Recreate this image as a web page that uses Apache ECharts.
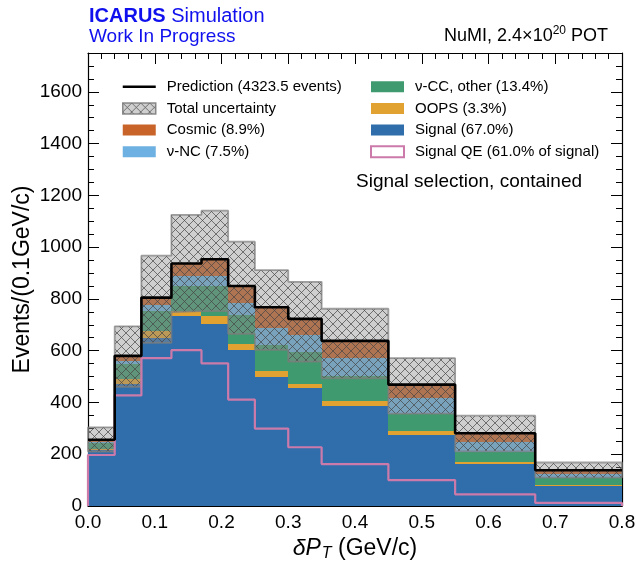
<!DOCTYPE html>
<html>
<head>
<meta charset="utf-8">
<script src="https://cdn.jsdelivr.net/npm/echarts@6/dist/echarts.min.js"></script>
<style>
html,body{margin:0;padding:0;background:#fff;}
#chart{width:636px;height:565px;}
</style>
</head>
<body>
<div id="chart"></div>
<script>
// ---- data ----
const binEdges = [0, 0.04, 0.08, 0.125, 0.17, 0.21, 0.25, 0.30, 0.35, 0.45, 0.55, 0.67, 0.8];
const signal   = [215, 470, 649, 733, 703, 603, 497, 455, 385, 275, 164, 76];
const oops     = [5, 19, 28, 22, 30, 22, 24, 18, 19, 13, 7, 7];
const ccOther  = [22, 58, 78, 95, 117, 111, 102, 122, 100, 68, 39, 27];
const ncEvents = [6, 13, 20, 39, 39, 49, 65, 65, 66, 62, 39, 13];
const cosmic   = [8, 20, 30, 48, 64, 65, 80, 63, 68, 51, 32, 15];
const signalQE = [197, 427, 571, 602, 551, 411, 299, 227, 162, 100, 45, 12];
const uncUp    = [48, 114, 162, 188, 188, 171, 143, 143, 124, 102, 68, 30];
const uncDown  = [46, 120, 175, 188, 200, 185, 165, 165, 145, 112, 70, 28];
const xTicks = [0, 0.1, 0.2, 0.3, 0.4, 0.5, 0.6, 0.7, 0.8];
const yTicks = [0, 200, 400, 600, 800, 1000, 1200, 1400, 1600];

const names = {
  pred: 'Prediction (4323.5 events)',
  unc: 'Total uncertainty',
  cosmic: 'Cosmic (8.9%)',
  nc: 'ν-NC (7.5%)',
  cc: 'ν-CC, other (13.4%)',
  oops: 'OOPS (3.3%)',
  signal: 'Signal (67.0%)',
  qe: 'Signal QE (61.0% of signal)'
};
// ---- styles ----
const colors = {
  signal: '#2f6eab', oops: '#e1a232', cc: '#409a6f', nc: '#6cb1e1', cosmic: '#c8642a', qe: '#cc7aaa'
};

function hatchPattern() {
  const P = 9;
  const c = document.createElement('canvas');
  c.width = P; c.height = P;
  const g = c.getContext('2d');
  g.fillStyle = 'rgba(140,140,140,0.42)';
  g.fillRect(0, 0, P, P);
  g.strokeStyle = 'rgba(70,70,70,0.7)';
  g.lineWidth = 1;
  g.beginPath();
  for (const o of [-P, 0, P]) {
    g.moveTo(o, 0); g.lineTo(o + P, P);
    g.moveTo(o, P); g.lineTo(o + P, 0);
  }
  g.stroke();
  return { image: c, repeat: 'repeat' };
}
const hatch = hatchPattern();

const layers = [
  { key: 'signal', values: signal },
  { key: 'oops', values: oops },
  { key: 'cc', values: ccOther },
  { key: 'nc', values: ncEvents },
  { key: 'cosmic', values: cosmic }
];

const nBins = binEdges.length - 1;
const base = new Array(nBins).fill(0);
const series = [];

function rectRender(fill) {
  return function (params, api) {
    const p0 = api.coord([api.value(0), api.value(3)]);
    const p1 = api.coord([api.value(1), api.value(2)]);
    const x0 = Math.round(p0[0]), x1 = Math.round(p1[0]);
    const y0 = Math.round(p0[1]), y1 = Math.round(p1[1]);
    return {
      type: 'rect',
      shape: { x: x0, y: y0, width: x1 - x0, height: y1 - y0 },
      style: { fill: fill }
    };
  };
}

layers.forEach(L => {
  const d = [];
  for (let i = 0; i < nBins; i++) {
    d.push([binEdges[i], binEdges[i + 1], base[i], base[i] + L.values[i]]);
    base[i] += L.values[i];
  }
  series.push({
    type: 'custom', name: names[L.key], z: 1,
    itemStyle: { color: colors[L.key] },
    encode: { x: [0, 1], y: [2, 3] },
    renderItem: rectRender(colors[L.key]),
    data: d
  });
});
const total = base.slice();

// uncertainty band (fill)
const uncData = [];
const uncOutline = [];
for (let i = 0; i < nBins; i++) {
  uncData.push([binEdges[i], binEdges[i + 1], total[i] - uncDown[i], total[i] + uncUp[i]]);
}
// outline: along the top edge, then back along the bottom edge
uncOutline.push([binEdges[0], total[0] - uncDown[0]]);
for (let i = 0; i < nBins; i++) {
  uncOutline.push([binEdges[i], total[i] + uncUp[i]]);
  uncOutline.push([binEdges[i + 1], total[i] + uncUp[i]]);
}
for (let i = nBins - 1; i >= 0; i--) {
  uncOutline.push([binEdges[i + 1], total[i] - uncDown[i]]);
  uncOutline.push([binEdges[i], total[i] - uncDown[i]]);
}
series.push({
  type: 'custom', name: names.unc, z: 2,
  itemStyle: { color: hatch, borderColor: 'rgba(120,120,120,0.8)', borderWidth: 1.5 },
  encode: { x: [0, 1], y: [2, 3] },
  renderItem: rectRender(hatch),
  data: uncData
});
series.push({
  type: 'line', name: 'uncOutline', z: 2, symbol: 'none', silent: true,
  lineStyle: { color: 'rgba(125,125,125,0.75)', width: 1.8 },
  data: uncOutline
});

// step outlines
function stepPoints(vals, closeEnds) {
  const pts = [];
  if (closeEnds) pts.push([binEdges[0], 0]);
  for (let i = 0; i < nBins; i++) pts.push([binEdges[i], vals[i]]);
  pts.push([binEdges[nBins], vals[nBins - 1]]);
  if (closeEnds) pts.push([binEdges[nBins], 0]);
  return pts;
}
series.push({
  type: 'line', name: names.qe, z: 3, step: 'end', symbol: 'none',
  lineStyle: { color: colors.qe, width: 2.2 }, itemStyle: { color: colors.qe },
  data: stepPoints(signalQE, true)
});
series.push({
  type: 'line', name: names.pred, z: 4, step: 'end', symbol: 'none',
  lineStyle: { color: '#000', width: 2.6 }, itemStyle: { color: '#000' },
  data: stepPoints(total, false)
});

const FONT = 'Liberation Sans, Arial, Helvetica, sans-serif';
const xMin = xTicks[0], xMax = xTicks[xTicks.length - 1];
const yMin = yTicks[0], yMax = 1750;

function xAx(pos, labels) {
  return {
    type: 'value', position: pos, min: xMin, max: xMax, interval: 0.1,
    axisLine: { show: true, onZero: false, lineStyle: { color: '#000', width: 1.2 } },
    axisTick: { show: true, inside: true, length: 11, lineStyle: { color: '#000', width: 1 } },
    minorTick: { show: true, splitNumber: 5, length: 6, lineStyle: { color: '#000', width: 1 } },
    splitLine: { show: false },
    axisLabel: labels ? { show: true, margin: 7, color: '#000', fontSize: 19, fontFamily: FONT,
      formatter: v => v.toFixed(1) } : { show: false }
  };
}
function yAx(pos, interval, len, labels, line) {
  return {
    type: 'value', position: pos, min: yMin, max: yMax, interval: interval,
    axisLine: { show: line, onZero: false, lineStyle: { color: '#000', width: 1.2 } },
    axisTick: { show: true, inside: true, length: len, lineStyle: { color: '#000', width: 1 } },
    splitLine: { show: false },
    axisLabel: labels ? { show: true, margin: 6, color: '#000', fontSize: 19, fontFamily: FONT,
      showMaxLabel: false, formatter: v => String(v) } : { show: false }
  };
}

const xAxes = [xAx('bottom', true), xAx('top', false)];
xAxes[0].name = '{i|δP}{s|T}{n| (GeV/c)}';
xAxes[0].nameLocation = 'middle';
xAxes[0].nameGap = 30;
xAxes[0].nameTextStyle = {
  color: '#000', fontFamily: FONT,
  rich: {
    i: { fontSize: 23, fontStyle: 'italic', fontFamily: FONT, color: '#000' },
    s: { fontSize: 16, fontStyle: 'italic', fontFamily: FONT, color: '#000', padding: [10, 0, 0, 1] },
    n: { fontSize: 23, fontFamily: FONT, color: '#000' }
  }
};
const yAxes = [
  yAx('left', 200, 11, true, true),
  yAx('left', 50, 6, false, false),
  yAx('right', 200, 11, false, true),
  yAx('right', 50, 6, false, false)
];
yAxes[0].name = 'Events/(0.1GeV/c)';
yAxes[0].nameLocation = 'middle';
yAxes[0].nameGap = 54;
yAxes[0].nameMoveOverlap = false;
yAxes[0].nameTextStyle = { color: '#000', fontSize: 23, fontFamily: FONT };

const legendCommon = {
  orient: 'vertical', itemWidth: 33, itemHeight: 11, itemGap: 5.7,
  textStyle: { color: '#000', fontSize: 15, fontFamily: FONT, lineHeight: 16, padding: [0, 0, 0, 6] },
  selectedMode: false
};

const option = {
  animation: false,
  backgroundColor: '#fff',
  grid: { left: 88, right: 14, top: 53, bottom: 59, outerBoundsMode: 'none', containLabel: false },
  xAxis: xAxes,
  yAxis: yAxes,
  legend: [
    Object.assign({}, legendCommon, {
      left: 117, top: 73.7,
      data: [
        { name: names.pred, icon: 'path://M0,0 L0.01,0 M0,4.3 L33,4.3 L33,6.7 L0,6.7 Z M33,11 L32.99,11', itemStyle: { color: '#000' } },
        { name: names.unc, icon: 'rect', itemStyle: { color: hatch, borderColor: 'rgba(120,120,120,0.85)', borderWidth: 1.5 } },
        { name: names.cosmic, icon: 'rect' },
        { name: names.nc, icon: 'rect' }
      ]
    }),
    Object.assign({}, legendCommon, {
      left: 365, top: 73.7,
      data: [
        { name: names.cc, icon: 'rect' },
        { name: names.oops, icon: 'rect' },
        { name: names.signal, icon: 'rect' },
        { name: names.qe, icon: 'rect', itemStyle: { color: '#fff', borderColor: colors.qe, borderWidth: 2 } }
      ]
    })
  ],
  graphic: [
    { type: 'text', left: 89, top: 6, style: {
      text: '{b|ICARUS} Simulation', fill: '#1010ee', font: '20px ' + FONT,
      rich: { b: { fontWeight: 'bold', fontSize: 20, fontFamily: FONT, fill: '#1010ee' } } } },
    { type: 'text', left: 89, top: 27, style: { text: 'Work In Progress', fill: '#1010ee', font: '19px ' + FONT } },
    { type: 'text', right: 28, top: 25, style: {
      text: 'NuMI, 2.4×10{sup|20} POT', fill: '#000', font: '18px ' + FONT,
      rich: { sup: { fontSize: 12, fontFamily: FONT, fill: '#000', padding: [0, 0, 10, 0] } } } },
    { type: 'text', left: 356, top: 172, style: { text: 'Signal selection, contained', fill: '#000', font: '19px ' + FONT } }
  ],
  series: series
};

const chart = echarts.init(document.getElementById('chart'), null, { renderer: 'canvas' });
chart.setOption(option);
</script>
</body>
</html>
